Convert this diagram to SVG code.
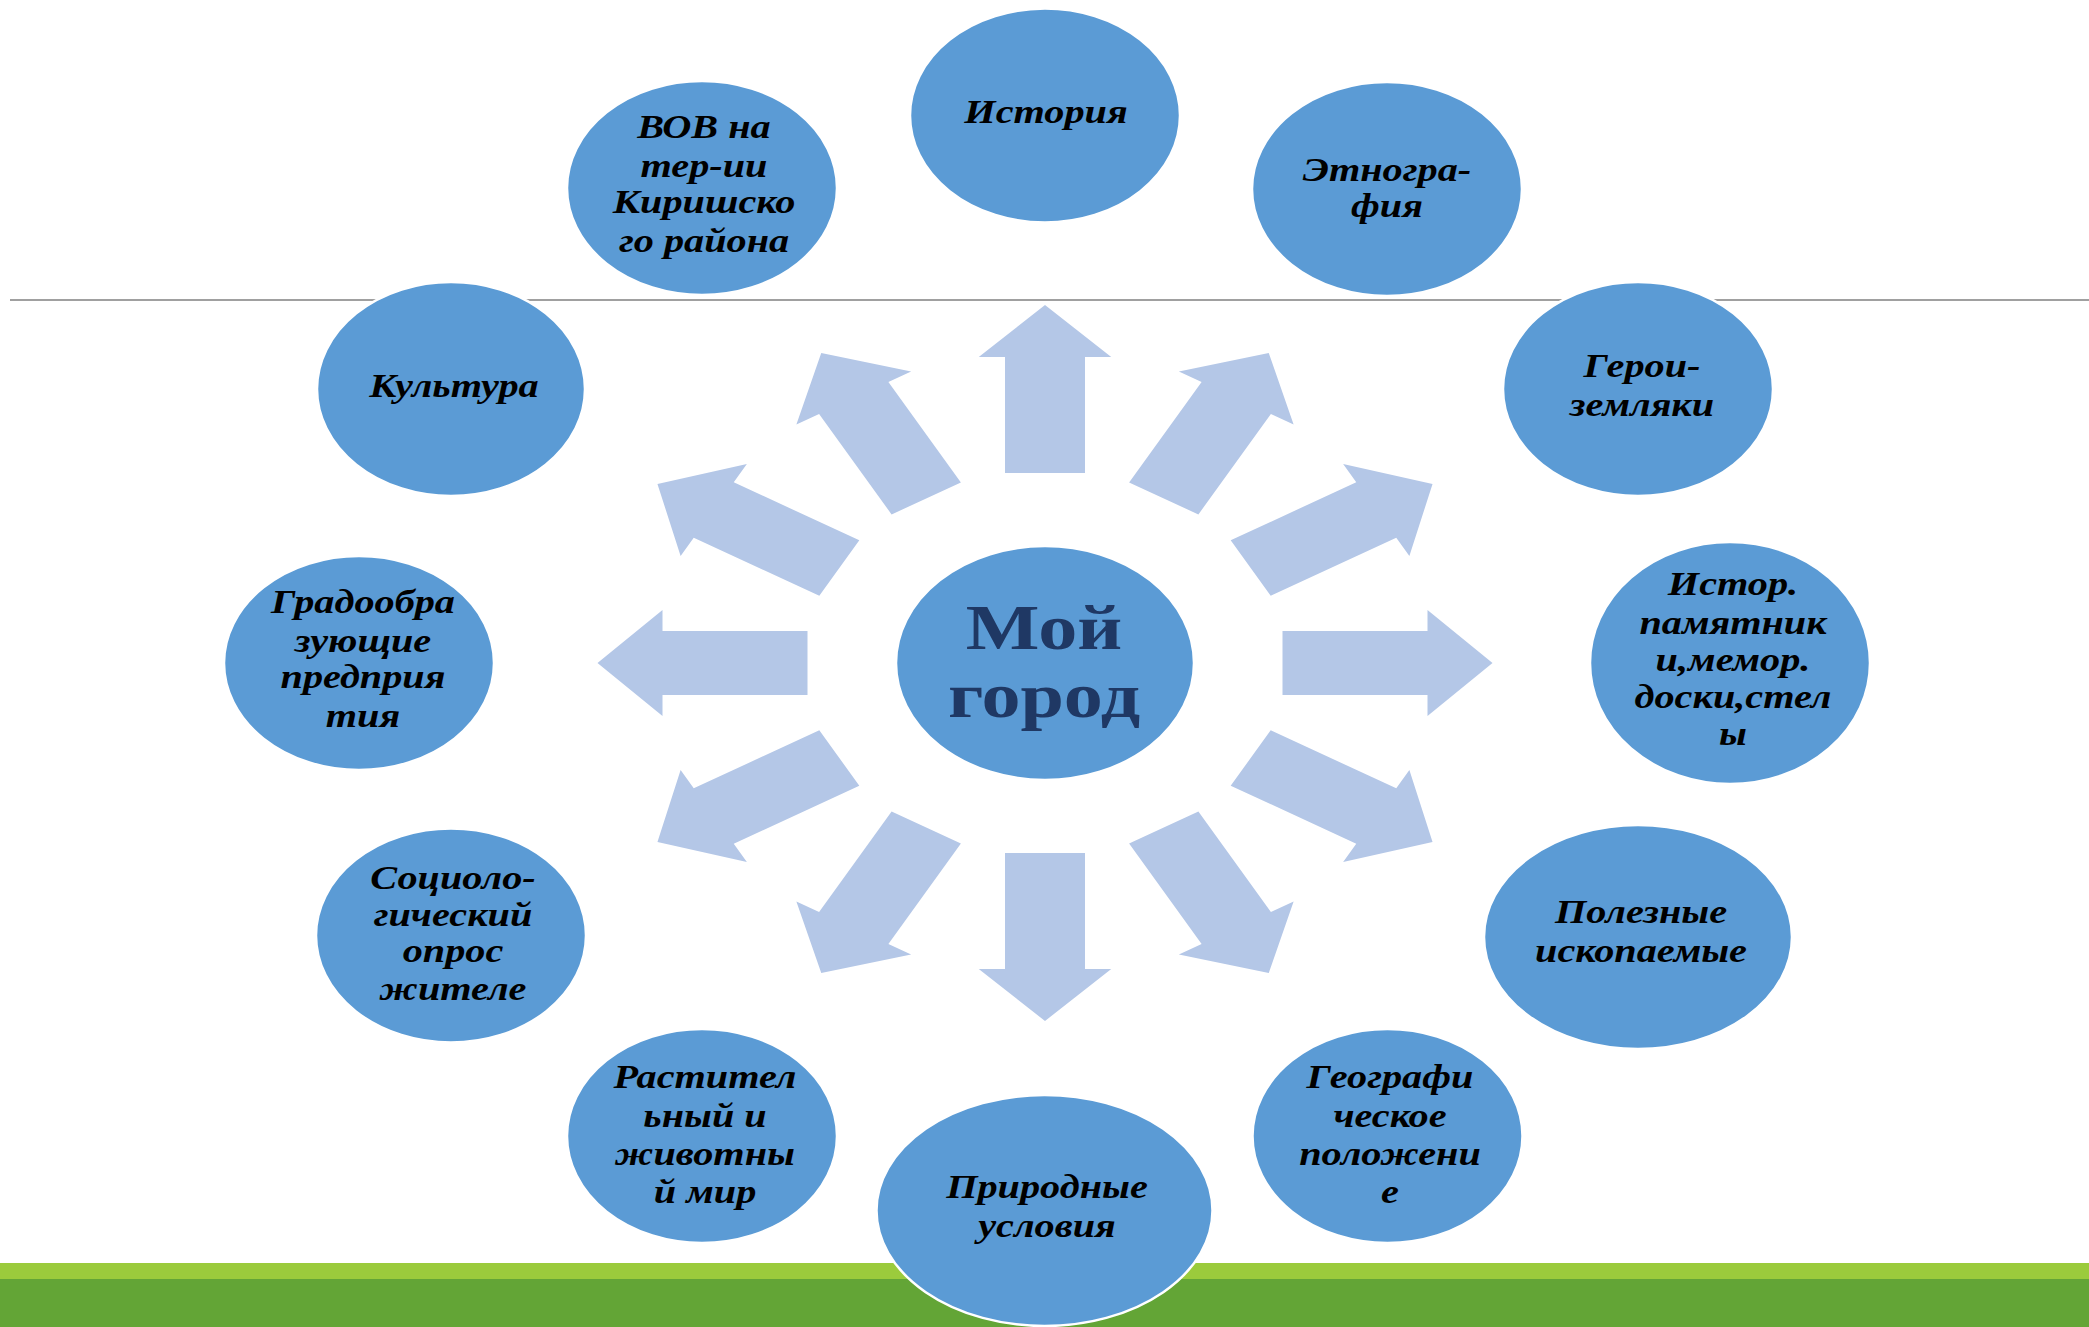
<svg xmlns="http://www.w3.org/2000/svg" width="2089" height="1327" viewBox="0 0 2089 1327">
<style>
.node{fill:#5B9BD5;stroke:#FFFFFF;stroke-width:2.5}
.lbl{font-family:"Liberation Serif","Times New Roman",serif;font-style:italic;font-weight:bold;font-size:33px;fill:#000000;text-anchor:middle}
.ctr{font-family:"Liberation Serif","Times New Roman",serif;font-weight:bold;font-size:64px;fill:#1F3864;text-anchor:middle}
.arr{fill:#B4C7E7}
</style>
<defs>
<path id="arrow" class="arr" d="M -32,-190 L -32,-306 L -53,-306 L 0,-358 L 53,-306 L 32,-306 L 32,-190 Z"/>
</defs>
<rect x="0" y="0" width="2089" height="1327" fill="#FFFFFF"/>
<line x1="10" y1="300" x2="2089" y2="300" stroke="#A0A0A0" stroke-width="2"/>
<rect x="0" y="1263" width="2089" height="16" fill="#9BCB3C"/>
<rect x="0" y="1279" width="2089" height="48" fill="#63A536"/>
<g id="connectors" transform="translate(1045 663) scale(1.25 1)">
<use href="#arrow"/>
<use href="#arrow" transform="rotate(30)"/>
<use href="#arrow" transform="rotate(60)"/>
<use href="#arrow" transform="rotate(90)"/>
<use href="#arrow" transform="rotate(120)"/>
<use href="#arrow" transform="rotate(150)"/>
<use href="#arrow" transform="rotate(180)"/>
<use href="#arrow" transform="rotate(210)"/>
<use href="#arrow" transform="rotate(240)"/>
<use href="#arrow" transform="rotate(270)"/>
<use href="#arrow" transform="rotate(300)"/>
<use href="#arrow" transform="rotate(330)"/>
</g>
<g id="center">
<ellipse class="node" cx="1045" cy="663" rx="149" ry="117"/>
<text class="ctr" transform="translate(1044 0) scale(1.22 1)"><tspan x="0" y="649">Мой</tspan><tspan x="0" y="717">город</tspan></text>
</g>
<g id="n-istoriya">
<ellipse class="node" cx="1045" cy="115.5" rx="135" ry="107"/>
<text class="lbl" transform="translate(1046 0) scale(1.22 1)"><tspan x="0" y="123">История</tspan></text>
</g>
<g id="n-etno">
<ellipse class="node" cx="1387" cy="189" rx="135" ry="107"/>
<text class="lbl" transform="translate(1387 0) scale(1.22 1)"><tspan x="0" y="181">Этногра-</tspan><tspan x="0" y="217">фия</tspan></text>
</g>
<g id="n-geroi">
<ellipse class="node" cx="1638" cy="389" rx="135" ry="107"/>
<text class="lbl" transform="translate(1642 0) scale(1.22 1)"><tspan x="0" y="377">Герои-</tspan><tspan x="0" y="416">земляки</tspan></text>
</g>
<g id="n-pamyatniki">
<ellipse class="node" cx="1730" cy="663" rx="140" ry="121"/>
<text class="lbl" transform="translate(1733 0) scale(1.22 1)"><tspan x="0" y="595">Истор.</tspan><tspan x="0" y="634">памятник</tspan><tspan x="0" y="671">и,мемор.</tspan><tspan x="0" y="708">доски,стел</tspan><tspan x="0" y="745">ы</tspan></text>
</g>
<g id="n-poleznye">
<ellipse class="node" cx="1638" cy="937" rx="154" ry="112"/>
<text class="lbl" transform="translate(1641 0) scale(1.22 1)"><tspan x="0" y="923">Полезные</tspan><tspan x="0" y="962">ископаемые</tspan></text>
</g>
<g id="n-geo">
<ellipse class="node" cx="1387.5" cy="1136" rx="135" ry="107"/>
<text class="lbl" transform="translate(1390 0) scale(1.22 1)"><tspan x="0" y="1088">Географи</tspan><tspan x="0" y="1127">ческое</tspan><tspan x="0" y="1165">положени</tspan><tspan x="0" y="1203">е</tspan></text>
</g>
<g id="n-priroda">
<ellipse class="node" cx="1044.5" cy="1210.5" rx="168" ry="115.5"/>
<text class="lbl" transform="translate(1047 0) scale(1.22 1)"><tspan x="0" y="1198">Природные</tspan><tspan x="0" y="1237">условия</tspan></text>
</g>
<g id="n-flora">
<ellipse class="node" cx="702" cy="1136" rx="135" ry="107"/>
<text class="lbl" transform="translate(705 0) scale(1.22 1)"><tspan x="0" y="1088">Растител</tspan><tspan x="0" y="1127">ьный и</tspan><tspan x="0" y="1165">животны</tspan><tspan x="0" y="1203">й мир</tspan></text>
</g>
<g id="n-opros">
<ellipse class="node" cx="451" cy="935.5" rx="135" ry="107"/>
<text class="lbl" transform="translate(453 0) scale(1.22 1)"><tspan x="0" y="889">Социоло-</tspan><tspan x="0" y="926">гический</tspan><tspan x="0" y="962">опрос</tspan><tspan x="0" y="1000">жителе</tspan></text>
</g>
<g id="n-grado">
<ellipse class="node" cx="359" cy="663" rx="135" ry="107"/>
<text class="lbl" transform="translate(363 0) scale(1.22 1)"><tspan x="0" y="613">Градообра</tspan><tspan x="0" y="652">зующие</tspan><tspan x="0" y="688">предприя</tspan><tspan x="0" y="727">тия</tspan></text>
</g>
<g id="n-kultura">
<ellipse class="node" cx="451" cy="389" rx="134" ry="107"/>
<text class="lbl" transform="translate(454 0) scale(1.22 1)"><tspan x="0" y="397">Культура</tspan></text>
</g>
<g id="n-vov">
<ellipse class="node" cx="702" cy="188" rx="135" ry="107"/>
<text class="lbl" transform="translate(704 0) scale(1.22 1)"><tspan x="0" y="138">ВОВ на</tspan><tspan x="0" y="177">тер-ии</tspan><tspan x="0" y="213">Киришско</tspan><tspan x="0" y="252">го района</tspan></text>
</g>
</svg>
